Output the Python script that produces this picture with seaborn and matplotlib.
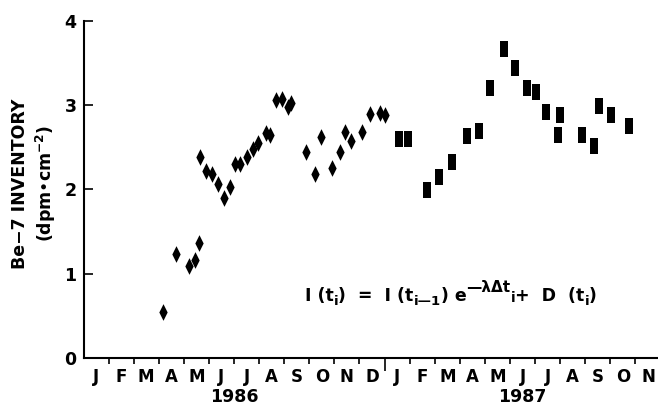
import numpy as np
import pandas as pd
import seaborn as sns
import matplotlib.pyplot as plt
from matplotlib.path import Path
from matplotlib.transforms import blended_transform_factory, IdentityTransform

# months since 1 Jan 1986, inventory in dpm cm^-2
t_1986 = [3.16, 3.69, 4.21, 4.44, 4.61, 4.64, 4.88, 5.11, 5.37, 5.61, 5.84,
          6.05, 6.24, 6.51, 6.74, 6.96, 7.26, 7.43, 7.67, 7.90, 8.16, 8.29,
          8.86, 9.22, 9.46, 9.89, 10.22, 10.43, 10.66, 11.10, 11.44, 11.81, 12.01]
inv_1986 = [0.55, 1.24, 1.09, 1.17, 1.37, 2.38, 2.22, 2.18, 2.07, 1.90, 2.03,
            2.30, 2.30, 2.39, 2.48, 2.55, 2.67, 2.64, 3.06, 3.07, 2.98, 3.02,
            2.45, 2.18, 2.62, 2.25, 2.45, 2.68, 2.58, 2.68, 2.89, 2.91, 2.88]

t_1987 = [12.56, 12.94, 13.71, 14.18, 14.67, 15.27, 15.76, 16.20, 16.75, 17.19,
          17.66, 18.03, 18.45, 19.01, 18.93, 19.89, 20.35, 20.55, 21.04, 21.73]
inv_1987 = [2.60, 2.60, 1.99, 2.15, 2.32, 2.63, 2.69, 3.20, 3.66, 3.44,
            3.20, 3.16, 2.92, 2.88, 2.65, 2.65, 2.52, 2.99, 2.88, 2.75]

month_letters = list("JFMAMJJASONDJFMAMJJASON")
years = ["1986", "1987"]
year_pos = [6.0, 17.5]

# equation pieces: text, size, vertical shift (px)
eq_parts = [("I (t", 12.5, 0), ("i", 9.5, -4), (")  =  I (t", 12.5, 0),
            ("i\u20141", 9.5, -4), (") e", 12.5, 0), ("\u2014\u03bb\u0394t", 11, 9),
            ("i", 10, -1), ("+  D  (t", 12.5, 0), ("i", 9.5, -4), (")", 12.5, 0)]

sns.set_style("ticks")
plt.rcParams['font.family'] = ['DejaVu Sans']
plt.rcParams['font.weight'] = 'bold'
plt.rcParams['mathtext.default'] = 'bf'
for key in ['text.color', 'axes.labelcolor', 'xtick.color', 'ytick.color', 'axes.edgecolor']:
    plt.rcParams[key] = 'black'

fig = plt.figure(figsize=(6.58, 4.08), dpi=100)
ax = fig.add_axes([0.1269, 0.1218, 0.8731, 0.8275])

diamond = Path([(0, 1), (0.5, 0), (0, -1), (-0.5, 0), (0, 1)],
               [Path.MOVETO, Path.LINETO, Path.LINETO, Path.LINETO, Path.CLOSEPOLY])
rect = Path([(-0.27, -0.5), (0.27, -0.5), (0.27, 0.5), (-0.27, 0.5), (-0.27, -0.5)],
            [Path.MOVETO, Path.LINETO, Path.LINETO, Path.LINETO, Path.CLOSEPOLY])

df86 = pd.DataFrame({"t": t_1986, "inv": inv_1986})
df87 = pd.DataFrame({"t": t_1987, "inv": inv_1987})
sns.scatterplot(data=df86, x="t", y="inv", marker=diamond, s=12 ** 2,
                color="black", linewidth=0, ax=ax, clip_on=False)
sns.scatterplot(data=df87, x="t", y="inv", marker=rect, s=11 ** 2,
                color="black", linewidth=0, ax=ax, clip_on=False)

ax.set_xlim(0, 22.9)
ax.set_ylim(0, 4)
sns.despine(ax=ax)
for sp in ["left", "bottom"]:
    ax.spines[sp].set_linewidth(1.5)

ax.set_yticks([0, 1, 2, 3, 4])
ax.set_yticklabels(["0", "1", "2", "3", "4"], fontsize=12.5, fontweight='bold')
ax.tick_params(axis='y', direction='in', length=6.5, width=1.2, pad=5)

ax.set_xticks(np.arange(1, 23))
ax.set_xticklabels([])
ax.tick_params(axis='x', which='major', direction='out', length=4, width=1.2)
ax.set_xticks(np.arange(0.5, 23, 1), month_letters, minor=True)
ax.tick_params(axis='x', which='minor', length=0, pad=7, labelsize=12)
for lab in ax.get_xticklabels(minor=True):
    lab.set_fontweight('bold')
ax.xaxis.get_major_ticks()[11].tick1line.set_markersize(9)

tr = blended_transform_factory(ax.transData, ax.transAxes)
for yr, xp in zip(years, year_pos):
    ax.text(xp, -0.115, yr, transform=tr, ha='center', va='center',
            fontsize=12.5, fontweight='bold')

ax.set_xlabel("")
ax.set_ylabel("")
fig.text(0.052, 0.55, "Be\u22127 INVENTORY\n(dpm\u2022cm$^{-2}$)", rotation=90,
         ha='center', va='center', fontsize=12.5, fontweight='bold',
         linespacing=1.25)

# equation, laid out piece by piece
renderer = fig.canvas.get_renderer()
x0, base = 305, 408 - 301
for txt, size, dy in eq_parts:
    t = fig.text(x0, base + dy, txt, transform=IdentityTransform(),
                 ha='left', va='baseline', fontsize=size, fontweight='bold')
    x0 += t.get_window_extent(renderer).width

fig.savefig("out.png", dpi=100)
